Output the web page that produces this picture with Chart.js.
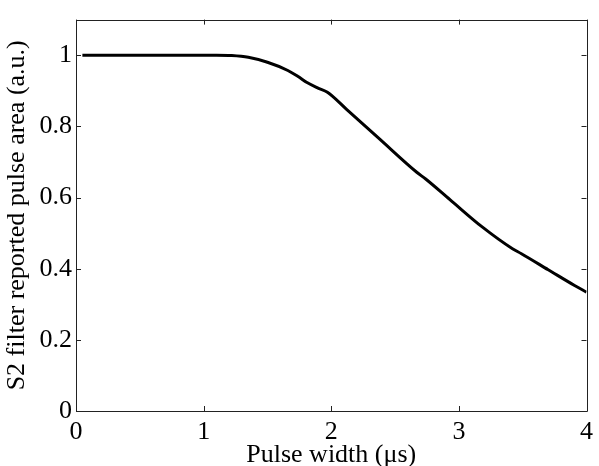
<!DOCTYPE html>
<html><head><meta charset="utf-8">
<script src="https://cdn.jsdelivr.net/npm/chart.js@4"></script>
<style>html,body{margin:0;padding:0;background:#fff;}canvas{display:block;}</style>
</head><body>
<canvas id="c" width="599" height="466"></canvas>
<script>
const pulseWidth = [0.05, 0.5, 1.0, 1.1, 1.22, 1.35, 1.5, 1.66, 1.74, 1.81, 1.9, 1.97, 2.12, 2.38, 2.67, 2.74, 2.93, 3.18, 3.42, 3.49, 3.70, 3.91, 4.0];
const pulseArea  = [1, 1, 1, 1.0, 0.999, 0.994, 0.98, 0.957, 0.94, 0.923, 0.907, 0.896, 0.848, 0.764, 0.671, 0.652, 0.594, 0.518, 0.456, 0.442, 0.397, 0.352, 0.334];
const xTicks = [0, 1, 2, 3, 4];
const yTicks = [0, 0.2, 0.4, 0.6, 0.8, 1];
const xTitle = 'Pulse width (\u03bcs)';
const yTitle = 'S2 filter reported pulse area (a.u.)';

const FONT = 'Liberation Serif';
const frame = {
  id: 'frame',
  afterDatasetsDraw(chart) {
    const {ctx, chartArea: a, scales: {x, y}} = chart;
    ctx.save();
    ctx.strokeStyle = '#222';
    ctx.lineWidth = 1;
    ctx.beginPath();
    ctx.rect(Math.round(a.left) + 0.5, Math.round(a.top) + 0.5, Math.round(a.right - a.left), Math.round(a.bottom - a.top));
    const L = 5;
    xTicks.forEach(v => {
      const p = Math.round(x.getPixelForValue(v)) + 0.5;
      ctx.moveTo(p, a.bottom); ctx.lineTo(p, a.bottom - L);
      ctx.moveTo(p, a.top); ctx.lineTo(p, a.top + L);
    });
    yTicks.forEach(v => {
      const p = Math.round(y.getPixelForValue(v)) + 0.5;
      ctx.moveTo(a.left, p); ctx.lineTo(a.left + L, p);
      ctx.moveTo(a.right, p); ctx.lineTo(a.right - L, p);
    });
    ctx.stroke();
    ctx.restore();
  }
};

new Chart(document.getElementById('c'), {
  type: 'line',
  data: {
    datasets: [{
      data: pulseWidth.map((v, i) => ({x: v, y: pulseArea[i]})),
      borderColor: '#000',
      borderWidth: 3,
      pointRadius: 0,
      cubicInterpolationMode: 'monotone',
      fill: false
    }]
  },
  options: {
    responsive: false,
    animation: false,
    layout: {padding: {top: 7, right: 7, left: 0, bottom: 0}},
    plugins: {legend: {display: false}, tooltip: {enabled: false}},
    scales: {
      x: {
        type: 'linear', min: 0, max: 4,
        grid: {display: false, drawTicks: false},
        border: {display: false},
        afterBuildTicks: s => { s.ticks = xTicks.map(v => ({value: v})); },
        afterFit: s => { s.height = 55; },
        ticks: {color: '#000', font: {family: FONT, size: 26}, padding: 6, maxRotation: 0,
          callback: v => String(v)},
        title: {display: true, text: xTitle, color: '#000', font: {family: FONT, size: 26, lineHeight: 0.85}, padding: {top: 0, bottom: 0}}
      },
      y: {
        min: 0, max: 1.1,
        grid: {display: false, drawTicks: false},
        border: {display: false},
        afterBuildTicks: s => { s.ticks = yTicks.map(v => ({value: v})); },
        afterFit: s => { s.width = 76; },
        ticks: {color: '#000', font: {family: FONT, size: 26}, padding: 4,
          callback: v => String(v)},
        title: {display: true, text: yTitle, color: '#000', font: {family: FONT, size: 26}, padding: {top: 2, bottom: 0}}
      }
    }
  },
  plugins: [frame]
});
</script>
</body></html>
